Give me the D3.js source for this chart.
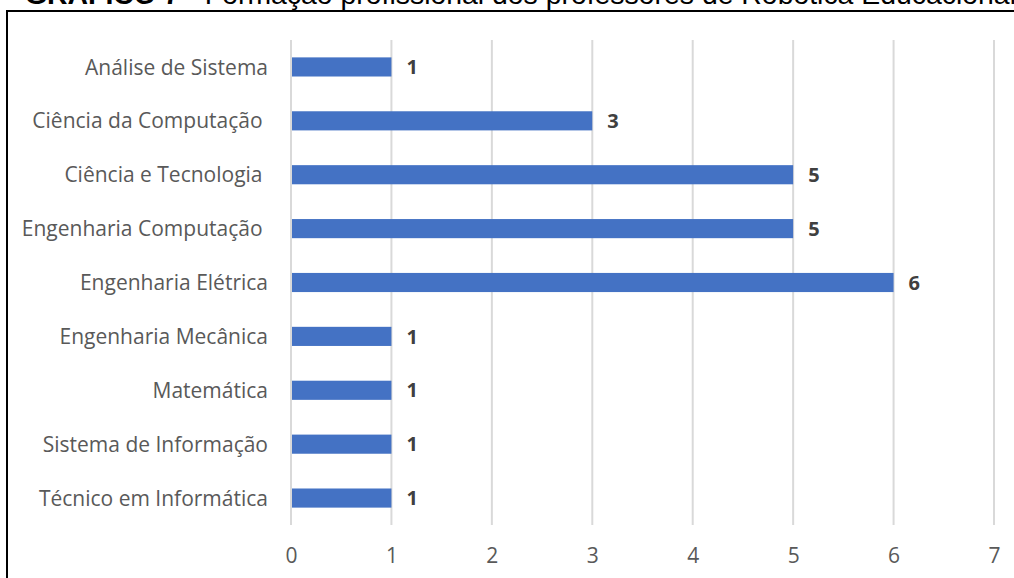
<!DOCTYPE html>
<html>
<head>
<meta charset="utf-8">
<script src="https://cdn.jsdelivr.net/npm/d3@7"></script>
<style>
  html, body { margin: 0; padding: 0; background: #fff; overflow: hidden; }
  svg { display: block; }
  text { white-space: pre; }
</style>
</head>
<body>
<svg id="chart" width="1014" height="578"></svg>
<script>
// Formação profissional dos professores
const categories = [
  "Análise de Sistema",
  "Ciência da Computação ",
  "Ciência e Tecnologia ",
  "Engenharia Computação ",
  "Engenharia Elétrica",
  "Engenharia Mecânica",
  "Matemática",
  "Sistema de Informação",
  "Técnico em Informática"
];
const values = [1, 3, 5, 5, 6, 1, 1, 1, 1];
const xTicks = [0, 1, 2, 3, 4, 5, 6, 7];
const titleBold = "GRÁFICO 7";
const titleRest = " - Formação profissional dos professores de Robótica Educacional";

const W = 1014, H = 578;
const svg = d3.select("#chart");
const font = "'Open Sans', sans-serif";

// Title (runs off the top of the frame)
const title = svg.append("text")
  .attr("x", 25).attr("y", 4)
  .attr("font-family", "'Liberation Sans', Arial, sans-serif")
  .attr("font-size", 28.4).attr("fill", "#000");
title.append("tspan").attr("font-weight", "bold").text(titleBold);
title.append("tspan").text(titleRest);

// Frame
svg.append("rect")
  .attr("x", 7).attr("y", 11).attr("width", W + 10).attr("height", H + 10)
  .attr("fill", "none").attr("stroke", "#000").attr("stroke-width", 2);

const x = d3.scaleLinear().domain([0, 7]).range([291, 994]);
const y = d3.scaleBand().domain(categories).range([40, 525]).paddingInner(0.645).paddingOuter(0.3225);

// Vertical gridlines
svg.append("g").selectAll("line").data(xTicks).join("line")
  .attr("x1", d => x(d)).attr("x2", d => x(d))
  .attr("y1", 40).attr("y2", 525)
  .attr("stroke", "#d9d9d9").attr("stroke-width", 2);

// Bars
svg.append("g").selectAll("rect").data(categories).join("rect")
  .attr("x", x(0) + 1)
  .attr("y", d => y(d))
  .attr("width", (d, i) => x(values[i]) - x(0) - 1)
  .attr("height", y.bandwidth())
  .attr("fill", "#4472c4");

// Value labels
svg.append("g").selectAll("text").data(categories).join("text")
  .attr("x", (d, i) => x(values[i]) + 15)
  .attr("y", d => y(d) + y.bandwidth() / 2)
  .attr("dy", "0.36em")
  .attr("font-family", font).attr("font-size", 20).attr("font-weight", "bold")
  .attr("fill", "#404040")
  .text((d, i) => values[i]);

// Category axis labels
svg.append("g").selectAll("text").data(categories).join("text")
  .attr("x", 268)
  .attr("y", d => y(d) + y.bandwidth() / 2)
  .attr("dy", "0.36em")
  .attr("text-anchor", "end")
  .attr("font-family", font).attr("font-size", 21)
  .attr("fill", "#595959")
  .text(d => d);

// Value axis
const xAxis = svg.append("g")
  .attr("transform", "translate(0,555)")
  .call(d3.axisBottom(x).tickValues(xTicks).tickSize(0).tickPadding(0).tickFormat(d3.format("d")));
xAxis.select(".domain").remove();
xAxis.selectAll("text")
  .attr("dy", "0.36em")
  .attr("font-family", font).attr("font-size", 21)
  .attr("fill", "#595959");
</script>
</body>
</html>
